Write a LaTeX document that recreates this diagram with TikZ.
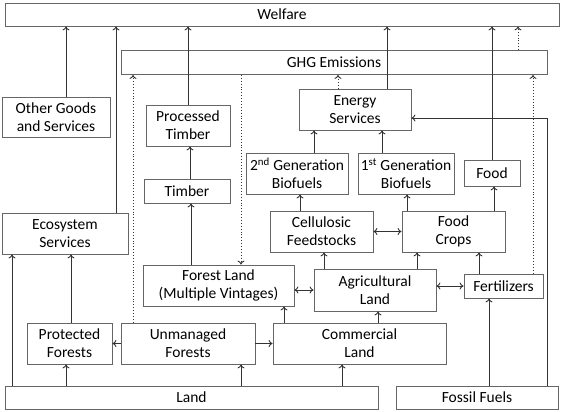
\documentclass[tikz,border=0pt]{standalone}
\usepackage{fontspec}
\setmainfont{Carlito}
\usetikzlibrary{arrows.meta}

\begin{document}
\begin{tikzpicture}[
    x=1pt, y=-1pt,
    box/.style={rectangle, draw=black!60, line width=0.8pt, align=center, inner sep=0pt, font=\fontsize{15.5}{18}\selectfont},
    arrow/.style={-{To[length=4pt,width=7pt]}, draw=black!80, line width=0.9pt},
    twoway/.style={{To[length=4pt,width=7pt]}-{To[length=4pt,width=7pt]}, draw=black!80, line width=0.9pt},
    emis/.style={arrow, dotted}
    ]
    \useasboundingbox (0,0) rectangle (562,412);

    \node[box, minimum width=554pt, minimum height=23pt] (welfare) at (282,14.5) {Welfare};
    \node[box, minimum width=426pt, minimum height=24pt] (ghg) at (334,62.5) {GHG Emissions};

    \node[box, minimum width=108pt, minimum height=40pt] (other) at (56,117) {Other Goods\\and Services};
    \node[box, minimum width=84pt, minimum height=41pt] (proc) at (188,125.5) {Processed\\Timber};
    \node[box, minimum width=112pt, minimum height=41pt] (energy) at (355,109.5) {Energy\\Services};
    \node[box, minimum width=86pt, minimum height=24pt] (timber) at (187,191) {Timber};
    \node[box, minimum width=102pt, minimum height=41pt] (gen2) at (297,173.5) {2\textsuperscript{nd} Generation\\Biofuels};
    \node[box, minimum width=96pt, minimum height=41pt] (gen1) at (406,173.5) {1\textsuperscript{st} Generation\\Biofuels};
    \node[box, minimum width=56pt, minimum height=26pt] (food) at (492,173) {Food};

    \node[box, minimum width=126pt, minimum height=41pt] (eco) at (65,233.5) {Ecosystem\\Services};
    \node[box, minimum width=103pt, minimum height=41pt] (cell) at (321.5,231.5) {Cellulosic\\Feedstocks};
    \node[box, minimum width=103pt, minimum height=41pt] (crops) at (453.5,231.5) {Food\\Crops};

    \node[box, minimum width=151pt, minimum height=41pt] (forest) at (218.5,285.5) {Forest Land\\(Multiple Vintages)};
    \node[box, minimum width=122pt, minimum height=42pt] (agri) at (375,290) {Agricultural\\Land};
    \node[box, minimum width=79pt, minimum height=24pt] (fert) at (503.5,286) {Fertilizers};

    \node[box, minimum width=85pt, minimum height=41pt] (prot) at (69.5,343.5) {Protected\\Forests};
    \node[box, minimum width=134pt, minimum height=41pt] (unman) at (188,343.5) {Unmanaged\\Forests};
    \node[box, minimum width=173pt, minimum height=41pt] (comm) at (359.5,343.5) {Commercial\\Land};

    \node[box, minimum width=373pt, minimum height=23pt] (land) at (191.5,397.5) {Land};
    \node[box, minimum width=162pt, minimum height=23pt] (fossil) at (477,397.5) {Fossil Fuels};

    \draw[arrow] (other.north -| 66,0) -- (welfare.south -| 66,0);
    \draw[arrow] (eco.north -| 116,0) -- (welfare.south -| 116,0);
    \draw[arrow] (proc.north) -- (proc.north |- welfare.south);
    \draw[arrow] (energy.north -| 387,0) -- (welfare.south -| 387,0);
    \draw[arrow] (food.north) -- (food.north |- welfare.south);
    \draw[emis] (ghg.north -| 518,0) -- (welfare.south -| 518,0);

    \draw[emis] (unman.north -| 133,0) -- (ghg.south -| 133,0);
    \draw[emis] (ghg.south -| 241,0) -- (forest.north -| 241,0);
    \draw[emis] (energy.north -| 338,0) -- (ghg.south -| 338,0);
    \draw[emis] (fert.north -| 533,0) -- (ghg.south -| 533,0);

    \draw[arrow] (fossil.north -| 547,0) -- (547,118) -- (energy.east |- 0,118);
    \draw[arrow] (fossil.north -| 489,0) -- (fert.south -| 489,0);

    \draw[arrow] (land.north -| 12,0) -- (eco.south -| 12,0);
    \draw[arrow] (prot.north -| 71,0) -- (eco.south -| 71,0);
    \draw[arrow] (land.north -| 66,0) -- (prot.south -| 66,0);
    \draw[arrow] (land.north -| 241,0) -- (unman.south -| 241,0);
    \draw[arrow] (land.north -| 342,0) -- (comm.south -| 342,0);
    \draw[arrow] (unman.west) -- (prot.east);
    \draw[arrow] (unman.east) -- (comm.west);
    \draw[arrow] (comm.north -| 284,0) -- (forest.south -| 284,0);
    \draw[arrow] (comm.north -| 378,0) -- (agri.south -| 378,0);

    \draw[twoway] (forest.east |- 0,290) -- (agri.west |- 0,290);
    \draw[twoway] (agri.east |- fert.west) -- (fert.west);
    \draw[arrow] (agri.north -| 324,0) -- (cell.south -| 324,0);
    \draw[arrow] (agri.north -| 417,0) -- (crops.south -| 417,0);
    \draw[arrow] (fert.north -| 479,0) -- (crops.south -| 479,0);
    \draw[twoway] (cell.east) -- (crops.west);

    \draw[arrow] (cell.north -| 300,0) -- (gen2.south -| 300,0);
    \draw[arrow] (crops.north -| 407,0) -- (gen1.south -| 407,0);
    \draw[arrow] (crops.north -| 494,0) -- (food.south -| 494,0);
    \draw[arrow] (gen2.north -| 314,0) -- (energy.south -| 314,0);
    \draw[arrow] (gen1.north -| 382,0) -- (energy.south -| 382,0);

    \draw[arrow] (forest.north -| 191,0) -- (timber.south -| 191,0);
    \draw[arrow] (timber.north -| 190,0) -- (proc.south -| 190,0);
\end{tikzpicture}
\end{document}
